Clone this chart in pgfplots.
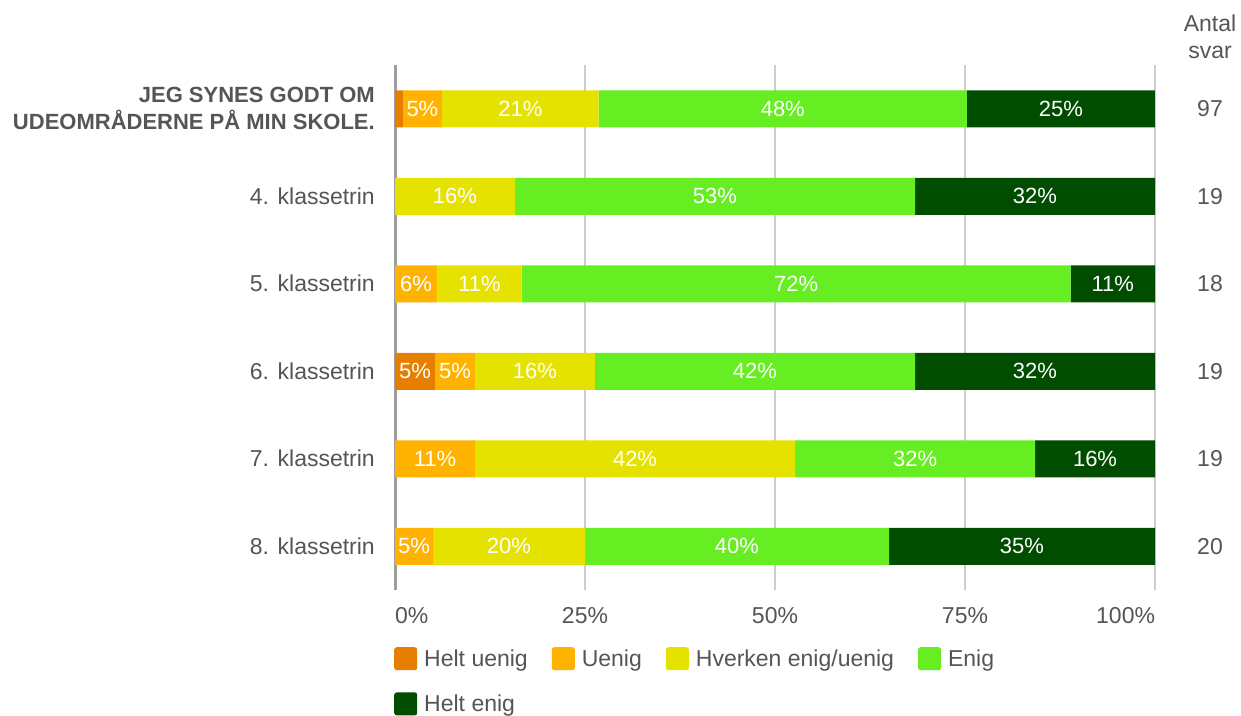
\documentclass[border=0pt]{standalone}
\usepackage{pgfplots}
\pgfplotsset{compat=1.18}
\usepackage{pgfplotstable}
\usepackage{fontspec}
\setmainfont{Liberation Sans}
\definecolor{cHU}{HTML}{E67E00}
\definecolor{cU}{HTML}{FFB300}
\definecolor{cH}{HTML}{E6E200}
\definecolor{cE}{HTML}{66EE22}
\definecolor{cHE}{HTML}{004D00}
\definecolor{txt}{HTML}{555555}
\definecolor{grd}{HTML}{CCCCCC}
\definecolor{zer}{HTML}{9E9E9E}
\newcommand\fs{\fontsize{23}{27}\selectfont}

\pgfplotstableread{
row hu u h e he lhu lu lh le lhe
0 1.03 5.15 20.62 48.45 24.74 0 5 21 48 25
1 0 0 15.79 52.63 31.58 0 0 16 53 32
2 0 5.56 11.11 72.22 11.11 0 6 11 72 11
3 5.26 5.26 15.79 42.11 31.58 5 5 16 42 32
4 0 10.53 42.11 31.58 15.78 0 11 42 32 16
5 0 5 20 40 35 0 5 20 40 35
}\data

\begin{document}
\begin{tikzpicture}
\useasboundingbox (0,0) rectangle (1241pt,715pt);
\begin{axis}[
  at={(395pt,125pt)}, anchor=south west,
  scale only axis, width=760pt, height=525pt,
  xbar stacked, bar width=37pt,
  xmin=0, xmax=100, ymin=-0.5, ymax=5.5, y dir=reverse,
  xtick={0,25,50,75,100},
  xticklabels={\makebox[0pt][l]{0\%},25\%,50\%,75\%,\makebox[0pt][r]{100\%}},
  xticklabel style={anchor=north, inner sep=0pt, yshift=-17pt, font=\fs, text=txt},
  ytick={0,1,2,3,4,5},
  yticklabels={{\fontsize{22}{27}\selectfont\bfseries JEG SYNES GODT OM\\\fontsize{22}{27}\selectfont\bfseries UDEOMRÅDERNE PÅ MIN SKOLE.},4. klassetrin,5. klassetrin,6. klassetrin,7. klassetrin,8. klassetrin},
  yticklabel style={anchor=east, align=right, inner sep=0pt, xshift=-20pt, font=\fs, text=txt},
  axis line style={draw=none},
  tick style={draw=none},
  major tick length=0pt,
  xmajorgrids, grid style={grd, line width=1.5pt},
  extra x ticks={0}, extra x tick labels={},
  extra x tick style={grid style={zer, line width=3pt}},
  clip=false,
  point meta=explicit symbolic,
  nodes near coords={\ifnum\pgfplotspointmeta=0 \else\pgfplotspointmeta\%\fi},
  nodes near coords align=center,
  every node near coord/.append style={anchor=center, text=white, font=\fontsize{22}{26}\selectfont, inner sep=0pt},
  legend columns=4,
  legend cell align=left,
  legend style={at={(-0.001,-0.106)}, anchor=north west, draw=none, fill=none, inner sep=0pt, outer sep=0pt, row sep=19pt, font=\fs, text=txt, nodes={inner sep=4pt}, /tikz/every odd column/.append style={column sep=3pt}, /tikz/every even column/.append style={column sep=20pt}},
  legend image code/.code={\fill[#1, rounded corners=2.5pt] (0pt,-11.5pt) rectangle (23pt,11.5pt);},
]
\addplot[fill=cHU, draw=none] table[x=hu, y=row, meta=lhu] {\data};
\addplot[fill=cU, draw=none] table[x=u, y=row, meta=lu] {\data};
\addplot[fill=cH, draw=none] table[x=h, y=row, meta=lh] {\data};
\addplot[fill=cE, draw=none] table[x=e, y=row, meta=le] {\data};
\addplot[fill=cHE, draw=none] table[x=he, y=row, meta=lhe] {\data};
\legend{Helt uenig, Uenig, Hverken enig/uenig, Enig, Helt enig}
\node[font=\fs, text=txt, align=center, anchor=south, inner sep=0pt, yshift=6pt] at (axis cs:107.24,-0.5) {Antal\\svar};
\node[font=\fs, text=txt] at (axis cs:107.24,0) {97};
\node[font=\fs, text=txt] at (axis cs:107.24,1) {19};
\node[font=\fs, text=txt] at (axis cs:107.24,2) {18};
\node[font=\fs, text=txt] at (axis cs:107.24,3) {19};
\node[font=\fs, text=txt] at (axis cs:107.24,4) {19};
\node[font=\fs, text=txt] at (axis cs:107.24,5) {20};
\end{axis}
\end{tikzpicture}
\end{document}
